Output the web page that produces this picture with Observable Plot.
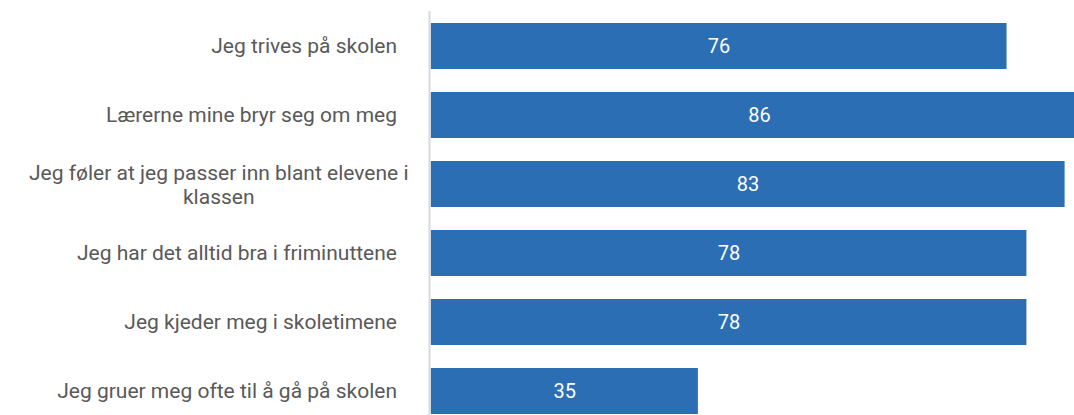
<!DOCTYPE html>
<html>
<head>
<meta charset="utf-8">
<script src="https://cdn.jsdelivr.net/npm/d3@7"></script>
<script src="https://cdn.jsdelivr.net/npm/@observablehq/plot@0.6"></script>
<style>
  html, body { margin: 0; padding: 0; background: #fff; overflow: hidden; }
  #chart svg { display: block; }
</style>
</head>
<body>
<div id="chart"></div>
<script>
const categories = [
  "Jeg trives på skolen",
  "Lærerne mine bryr seg om meg",
  "Jeg føler at jeg passer inn blant elevene i\nklassen",
  "Jeg har det alltid bra i friminuttene",
  "Jeg kjeder meg i skoletimene",
  "Jeg gruer meg ofte til å gå på skolen"
];
const values = [75.4, 86, 83, 78, 78, 35];
const valueLabels = ["76", "86", "83", "78", "78", "35"];

const data = categories.map((c, i) => ({category: c, value: values[i], label: valueLabels[i]}));

const labelFont = "Roboto";
const labelSize = 21;
const textColor = "#595959";
const barColor = "#2c6eb4";

const ctx = document.createElement("canvas").getContext("2d");
ctx.font = `${labelSize}px "${labelFont}"`;
const firstLineWidth = s => ctx.measureText(s.split("\n")[0]).width;

const single = data.filter(d => !d.category.includes("\n"));
const multi = data.filter(d => d.category.includes("\n"));

const chart = Plot.plot({
  width: 1074,
  height: 415,
  marginLeft: 430.5,
  marginRight: 0,
  marginTop: 11,
  marginBottom: 0,
  style: {fontFamily: labelFont, background: "#fff"},
  x: {domain: [0, 84.23], axis: null},
  y: {domain: categories, range: [11, 425.7], paddingInner: 0.336, paddingOuter: 0.16, axis: null},
  marks: [
    Plot.barX(data, {x: "value", y: "category", fill: barColor, clip: true}),
    Plot.ruleX([0], {stroke: "#d9d9d9", strokeWidth: 2, dx: -1.5}),
    Plot.text(data, {x: d => d.value / 2, y: "category", text: "label", fill: "#fff", fontSize: 20, fontFamily: "Roboto"}),
    Plot.text(single, {x: 0, y: "category", text: "category", textAnchor: "end", dx: -34, fill: textColor, fontSize: labelSize, fontFamily: labelFont}),
    ...multi.map(d => Plot.text([d], {x: 0, y: "category", text: "category", textAnchor: "middle", lineHeight: 1.14, dx: -22.5 - firstLineWidth(d.category) / 2, fill: textColor, fontSize: labelSize, fontFamily: labelFont}))
  ]
});
document.getElementById("chart").append(chart);
</script>
</body>
</html>
